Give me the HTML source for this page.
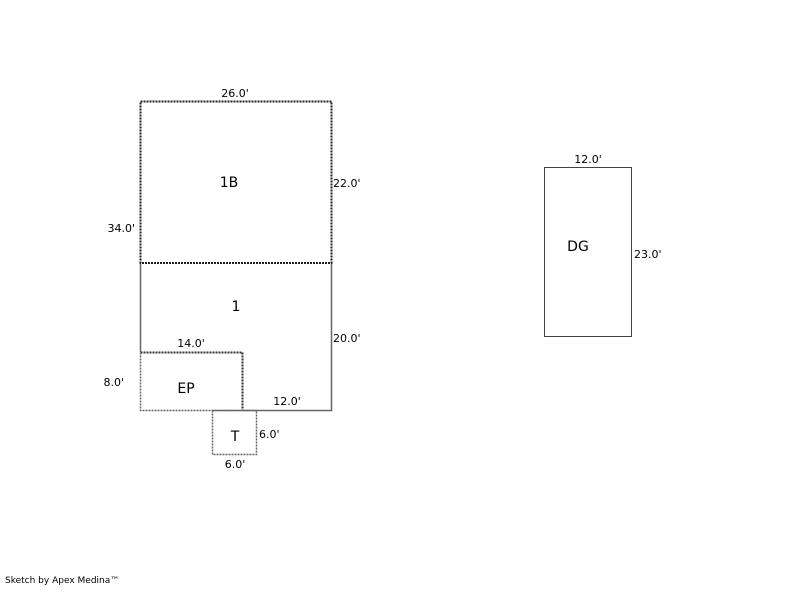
<!DOCTYPE html>
<html><head><style>
body{margin:0;background:#fff;}
svg text{font-family:"DejaVu Sans","Liberation Sans",sans-serif;fill:#000;}
</style></head><body>
<svg width="800" height="587" xmlns="http://www.w3.org/2000/svg">
<g fill="none" stroke-width="1">
<path d="M140.5 263V352" stroke="#666" stroke-width="1.5"/>
<path d="M331.5 263V410.5H243" stroke="#666" stroke-width="1.5"/>
<rect x="140.5" y="101.5" width="191" height="161.5" stroke="#222" stroke-width="2" stroke-dasharray="2 1"/>
<path d="M140.5 352.5H242.5V410" stroke="#333" stroke-width="2" stroke-dasharray="2 1"/>
<path d="M140.5 352.5V410.5H242.5" stroke="#666" stroke-width="1.5" stroke-dasharray="2 1"/>
<rect x="212.5" y="410.5" width="44" height="44" stroke="#666" stroke-width="1.5" stroke-dasharray="2 1"/>
<rect x="544.5" y="167.5" width="87" height="169" stroke="#444"/>
</g>
<g font-size="11">
<text x="235" y="97" text-anchor="middle">26.0'</text>
<text x="333" y="187">22.0'</text>
<text x="135" y="232" text-anchor="end">34.0'</text>
<text x="333" y="342">20.0'</text>
<text x="191" y="347" text-anchor="middle">14.0'</text>
<text x="124" y="386" text-anchor="end">8.0'</text>
<text x="287" y="405" text-anchor="middle">12.0'</text>
<text x="259" y="438">6.0'</text>
<text x="235" y="468" text-anchor="middle">6.0'</text>
<text x="588" y="163" text-anchor="middle">12.0'</text>
<text x="634" y="258">23.0'</text>
</g>
<g font-size="14">
<text x="229" y="187" text-anchor="middle">1B</text>
<text x="236" y="311" text-anchor="middle">1</text>
<text x="186" y="393" text-anchor="middle">EP</text>
<text x="235" y="441" text-anchor="middle">T</text>
<text x="578" y="251" text-anchor="middle">DG</text>
</g>
<text x="5" y="583" font-size="9">Sketch by Apex Medina™</text>
</svg>
</body></html>
